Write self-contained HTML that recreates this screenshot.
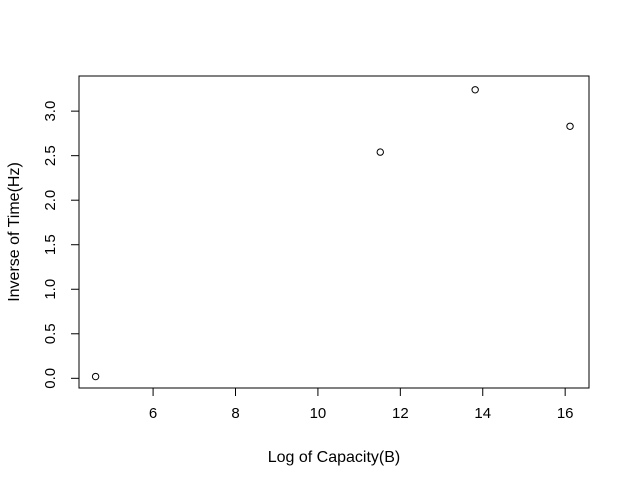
<!DOCTYPE html>
<html><head><meta charset="utf-8"><style>
html,body{margin:0;padding:0;background:#fff;}
svg{display:block;font-family:"Liberation Sans",Arial,sans-serif;}
</style></head><body>
<svg id="chart" width="630" height="486" xmlns="http://www.w3.org/2000/svg">
<rect x="79" y="76" width="510" height="312" fill="none" stroke="#000" stroke-width="1"/>
<g id="xaxis"></g>
<g id="yaxis"></g>
<g id="points"></g>
<text x="334" y="462" font-size="16" text-anchor="middle">Log of Capacity(B)</text>
<text transform="translate(19,232) rotate(-90)" font-size="16" text-anchor="middle">Inverse of Time(Hz)</text>
</svg>
<script>
const xValues = [4.605, 11.513, 13.816, 16.118];
const yValues = [0.02, 2.54, 3.24, 2.83];
const xTicks = [6, 8, 10, 12, 14, 16];
const yTicks = [0.0, 0.5, 1.0, 1.5, 2.0, 2.5, 3.0];
const yTickLabels = ["0.0","0.5","1.0","1.5","2.0","2.5","3.0"];

const NS = "http://www.w3.org/2000/svg";
const L = 79, R = 589, T = 76, B = 388;
const xmin = Math.min(...xValues), xmax = Math.max(...xValues);
const ymin = Math.min(...yValues), ymax = Math.max(...yValues);
const xlo = xmin - 0.035*(xmax-xmin), xhi = xmax + 0.04*(xmax-xmin);
const ylo = ymin - 0.04*(ymax-ymin), yhi = ymax + 0.048*(ymax-ymin);
function xs(v){ return L + (v - xlo)/(xhi - xlo)*(R - L); }
function ys(v){ return B - (v - ylo)/(yhi - ylo)*(B - T); }
function mk(tag, attrs, parent){
  const e = document.createElementNS(NS, tag);
  for (const k in attrs) e.setAttribute(k, attrs[k]);
  parent.appendChild(e); return e;
}
const xg = document.getElementById('xaxis');
mk('line',{x1:xs(xTicks[0]),x2:xs(xTicks[xTicks.length-1]),y1:B,y2:B,stroke:'#000'},xg);
xTicks.forEach(t=>{
  const x = xs(t);
  const tl = mk('line',{x1:x,x2:x,y1:B,y2:B+8,stroke:'#000'},xg);
  
  
  const tx = mk('text',{x:x,y:B+30,'font-size':15,'text-anchor':'middle'},xg);
  tx.textContent = t;
  
  
});
const yg = document.getElementById('yaxis');
mk('line',{x1:L,x2:L,y1:ys(yTicks[0]),y2:ys(yTicks[yTicks.length-1]),stroke:'#000'},yg);
yTicks.forEach((t,i)=>{
  const y = ys(t);
  const tl = mk('line',{x1:L-8,x2:L,y1:y,y2:y,stroke:'#000'},yg);
  
  
  const tx = mk('text',{transform:`translate(${L-24},${y}) rotate(-90)`,'font-size':15,'text-anchor':'middle'},yg);
  tx.textContent = yTickLabels[i];
  
  
});
const pg = document.getElementById('points');
xValues.forEach((v,i)=>{
  const c = mk('circle',{cx:xs(v),cy:ys(yValues[i]),r:3.2,fill:'none',stroke:'#000','stroke-width':1},pg);
  
  
});
</script>
</body></html>
